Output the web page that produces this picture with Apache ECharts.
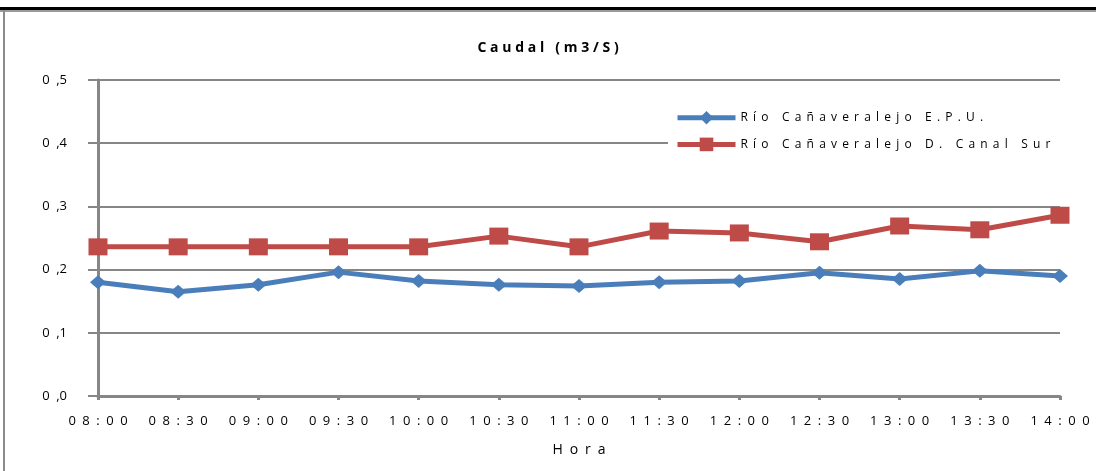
<!DOCTYPE html>
<html>
<head>
<meta charset="utf-8">
<script src="https://cdn.jsdelivr.net/npm/echarts@6/dist/echarts.min.js"></script>
<style>
html,body{margin:0;padding:0;background:#fff;}
#c{width:1096px;height:471px;}
</style>
</head>
<body>
<div id="c"></div>
<script>
const categories = ['08:00','08:30','09:00','09:30','10:00','10:30','11:00','11:30','12:00','12:30','13:00','13:30','14:00'];
const seriesNames = ['Río Cañaveralejo E.P.U.', 'Río Cañaveralejo D. Canal Sur'];
const epu = [0.180, 0.165, 0.176, 0.196, 0.182, 0.176, 0.174, 0.180, 0.182, 0.195, 0.185, 0.198, 0.190];
const canalSur = [0.236, 0.236, 0.236, 0.236, 0.236, 0.253, 0.236, 0.261, 0.258, 0.244, 0.269, 0.263, 0.286];
const titleText = 'Caudal (m3/S)';
const xName = 'Hora';

function spaced(s, sp) {
  return s.split('').join(sp);
}
const FONT = '"Open Sans", "Liberation Sans", sans-serif';

const chart = echarts.init(document.getElementById('c'), null, {renderer: 'canvas'});
chart.setOption({
  backgroundColor: '#ffffff',
  animation: false,
  title: {
    text: spaced(titleText, '\u2009\u200A'),
    left: 'center',
    top: 36,
    textStyle: {fontFamily: FONT, fontSize: 14, fontWeight: 'bold', color: '#000'}
  },
  graphic: [
    {type: 'rect', shape: {x: 0, y: 7, width: 1096, height: 3}, style: {fill: '#000'}, silent: true},
    {type: 'rect', shape: {x: 0, y: 10, width: 1096, height: 2}, style: {fill: '#9a9a9a'}, silent: true},
    {type: 'rect', shape: {x: 3, y: 10, width: 2, height: 461}, style: {fill: '#8c8c8c'}, silent: true}
  ],
  legend: {
    orient: 'vertical',
    left: 668,
    top: 103,
    padding: [8, 50, 8, 7],
    backgroundColor: '#ffffff',
    itemWidth: 58,
    itemHeight: 17,
    itemGap: 13,
    data: seriesNames,
    lineStyle: {width: 5},
    formatter: n => spaced(n, '\u2009\u2009\u200A'),
    textStyle: {fontFamily: FONT, fontSize: 12, color: '#000'}
  },
  grid: {left: 98, right: 36, top: 80, bottom: 75, containLabel: false},
  xAxis: {
    type: 'category',
    data: categories,
    boundaryGap: false,
    name: spaced(xName, '\u2002'),
    nameLocation: 'middle',
    nameGap: 47,
    nameTextStyle: {fontFamily: FONT, fontSize: 14, color: '#000'},
    axisLine: {lineStyle: {color: '#868686', width: 3}},
    axisTick: {show: true, length: 4, lineStyle: {color: '#868686', width: 3}},
    axisLabel: {
      fontFamily: FONT, fontSize: 13, color: '#000', margin: 19, interval: 0,
      formatter: v => spaced(v, '\u2002')
    },
    splitLine: {show: false}
  },
  yAxis: {
    type: 'value',
    min: 0, max: 0.5, interval: 0.1,
    axisLine: {show: true, lineStyle: {color: '#868686', width: 3}},
    axisTick: {show: true, length: 10, lineStyle: {color: '#868686', width: 2}},
    axisLabel: {
      fontFamily: FONT, fontSize: 13, color: '#000', margin: 31,
      formatter: v => v.toFixed(1).replace('.', '\u2002,')
    },
    splitLine: {show: true, lineStyle: {color: '#868686', width: 2}}
  },
  series: [
    {
      name: seriesNames[0],
      type: 'line',
      data: epu,
      symbol: 'diamond',
      symbolSize: [16, 14],
      lineStyle: {color: '#4A7EBB', width: 5},
      itemStyle: {color: '#4A7EBB'},
      z: 3
    },
    {
      name: seriesNames[1],
      type: 'line',
      data: canalSur,
      symbol: 'rect',
      symbolSize: [19, 17],
      lineStyle: {color: '#BE4B48', width: 5},
      itemStyle: {color: '#BE4B48'},
      z: 2
    }
  ]
});
</script>
</body>
</html>
